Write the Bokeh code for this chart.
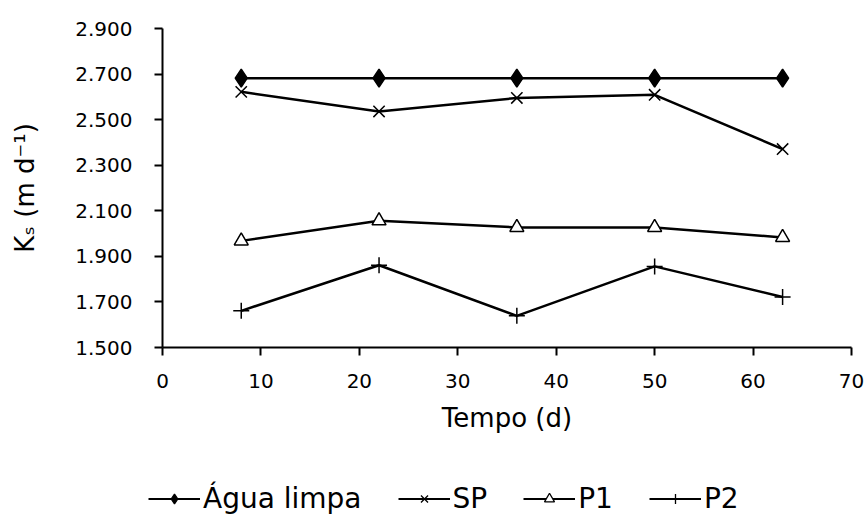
from bokeh.plotting import figure
from bokeh.models import Range1d, FixedTicker, Legend, LegendItem
from bokeh.layouts import column, row
from bokeh.embed import file_html
from bokeh.resources import INLINE

# Data
tempo = [8, 22, 36, 50, 63]
agua_limpa = [2.682, 2.682, 2.682, 2.682, 2.682]
sp = [2.622, 2.536, 2.595, 2.609, 2.371]
p1 = [1.968, 2.056, 2.027, 2.027, 1.983]
p2 = [1.661, 1.861, 1.639, 1.856, 1.722]

series_names = ["Água limpa", "SP", "P1", "P2"]
x_ticks = [0, 10, 20, 30, 40, 50, 60, 70]
y_ticks = [1.5, 1.7, 1.9, 2.1, 2.3, 2.5, 2.7, 2.9]
y_tick_labels = ["1.500", "1.700", "1.900", "2.100", "2.300", "2.500", "2.700", "2.900"]

FONT = "DejaVu Sans"

p = figure(width=867, height=460, output_backend="svg", toolbar_location=None,
           x_range=Range1d(0, 70), y_range=Range1d(1.5, 2.9),
           min_border_left=162, min_border_right=16, min_border_top=28, min_border_bottom=113)
p.outline_line_color = None
p.xgrid.visible = False
p.ygrid.visible = False
p.background_fill_color = "white"
p.border_fill_color = "white"

for ax in (p.xaxis[0], p.yaxis[0]):
    ax.axis_line_color = "black"
    ax.axis_line_width = 2
    ax.major_tick_line_color = "black"
    ax.major_tick_line_width = 2
    ax.major_tick_out = 8
    ax.major_tick_in = 0
    ax.minor_tick_line_color = None
    ax.major_label_text_font = FONT
    ax.major_label_text_font_size = "20px"
    ax.major_label_text_color = "black"
    ax.axis_label_text_font = FONT
    ax.axis_label_text_font_style = "normal"
    ax.axis_label_text_color = "black"
    ax.axis_label_text_font_size = "26px"

p.xaxis.ticker = FixedTicker(ticks=x_ticks)
p.yaxis.ticker = FixedTicker(ticks=y_ticks)
p.yaxis.major_label_overrides = {t: l for t, l in zip(y_ticks, y_tick_labels)}
p.xaxis.major_label_standoff = 18
p.yaxis.major_label_standoff = 22
p.xaxis.axis_label = "Tempo (d)"
p.yaxis.axis_label = "Kₛ (m d⁻¹)"
p.xaxis.axis_label_standoff = 12
p.yaxis.axis_label_standoff = 32

specs = [
    (agua_limpa, "diamond", 18, "black"),
    (sp, "x", 16, None),
    (p1, "triangle", 14, "white"),
    (p2, "cross", 16, None),
]

# legend strip below the chart (series drawn outside its visible range)
lf = figure(width=867, height=55, output_backend="svg", toolbar_location=None,
            x_range=Range1d(-1000, -999), y_range=Range1d(0, 1),
            x_axis_location=None, y_axis_location=None,
            min_border=0, min_border_left=0, min_border_right=0,
            min_border_top=0, min_border_bottom=0)
lf.outline_line_color = None
lf.xgrid.visible = False
lf.ygrid.visible = False
lf.border_fill_color = "white"

items = []
for name, (vals, marker, size, fill) in zip(series_names, specs):
    p.line(tempo, vals, line_color="black", line_width=2.5)
    p.scatter(tempo, vals, marker=marker, size=size, line_color="black",
              line_width=1.5, fill_color=fill)
    l = lf.line(tempo, vals, line_color="black", line_width=2)
    s = lf.scatter(tempo, vals, marker=marker, size=size * 0.75, line_color="black",
                   line_width=1.3, fill_color=fill)
    items.append(LegendItem(label=name, renderers=[l, s]))

legend = Legend(items=items, orientation="horizontal", location=(148, 0),
                glyph_width=52, glyph_height=25, label_standoff=3, spacing=36,
                padding=0, margin=0, border_line_color=None, background_fill_alpha=0,
                label_text_font=FONT, label_text_font_size="28px", label_text_color="black")
lf.add_layout(legend, "center")

layout = column(p, row(lf), spacing=0)
open("out.html", "w").write(file_html(layout, INLINE))
